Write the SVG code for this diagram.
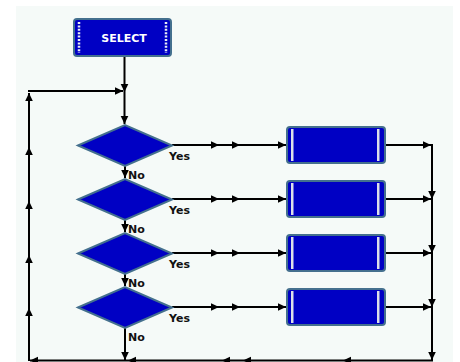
<svg xmlns="http://www.w3.org/2000/svg" width="460" height="362" viewBox="0 0 460 362">
<style>
.bg{fill:#f5faf8}
.blk{fill:#0000c4;stroke:#44708e;stroke-width:2}
.bar{fill:#dcdfe8}
.dot{stroke:#e8ecf4;stroke-width:2.5;stroke-dasharray:2 1.4}
.c{fill:none;stroke:#000;stroke-width:2}
.lbl{font-family:"DejaVu Sans",sans-serif;font-weight:bold;font-size:11px;fill:#111}
.sel{font-family:"DejaVu Sans",sans-serif;font-weight:bold;font-size:11px;fill:#fff}
</style>
<defs>
<marker id="a" markerUnits="userSpaceOnUse" markerWidth="10" markerHeight="10" viewBox="0 0 10 10" refX="8" refY="5" orient="auto">
<path d="M0 1.2 L8 5 L0 8.8 Z" fill="#000"/>
</marker>
</defs>
<rect class="bg" x="16" y="6" width="437" height="360"/>
<g id="connectors">
<path class="c" d="M124.5 56 L124.5 92 L124.5 124" marker-mid="url(#a)" marker-end="url(#a)"/>
<path class="c" d="M29 361 L29 308 L29 255 L29 201 L29 147 L29 93" marker-mid="url(#a)" marker-end="url(#a)"/>
<path class="c" d="M28 91 L123 91" marker-end="url(#a)"/>
<path class="c" d="M125 166 L125 178" marker-end="url(#a)"/>
<path class="c" d="M125 220 L125 232" marker-end="url(#a)"/>
<path class="c" d="M125 274 L125 286" marker-end="url(#a)"/>
<path class="c" d="M125 328 L125 360" marker-end="url(#a)"/>
<path class="c" d="M172 145 L219 145 L240 145 L286 145" marker-mid="url(#a)" marker-end="url(#a)"/>
<path class="c" d="M172 199 L219 199 L240 199 L286 199" marker-mid="url(#a)" marker-end="url(#a)"/>
<path class="c" d="M172 253 L219 253 L240 253 L286 253" marker-mid="url(#a)" marker-end="url(#a)"/>
<path class="c" d="M172 307 L219 307 L240 307 L286 307" marker-mid="url(#a)" marker-end="url(#a)"/>
<path class="c" d="M385 145 L431 145" marker-end="url(#a)"/>
<path class="c" d="M385 199 L431 199" marker-end="url(#a)"/>
<path class="c" d="M385 253 L431 253" marker-end="url(#a)"/>
<path class="c" d="M385 307 L431 307" marker-end="url(#a)"/>
<path class="c" d="M432 144 L432 199 L432 253 L432 307 L432 360" marker-mid="url(#a)" marker-end="url(#a)"/>
<path class="c" d="M433 360.5 L343 360.5 L243 360.5 L222 360.5 L128 360.5 L30 360.5" marker-mid="url(#a)" marker-end="url(#a)"/>
</g>
<g id="select">
<rect class="blk" x="74" y="19" width="97" height="37" rx="3"/>
<line class="dot" x1="79" y1="22" x2="79" y2="53"/>
<line class="dot" x1="166" y1="22" x2="166" y2="53"/>
<text class="sel" x="124" y="41.5" text-anchor="middle">SELECT</text>
</g>
<g id="d1"><polygon class="blk" points="78,145.5 125,125 172,145.5 125,166"/></g>
<g id="d2"><polygon class="blk" points="78,199.5 125,179 172,199.5 125,220"/></g>
<g id="d3"><polygon class="blk" points="78,253.5 125,233 172,253.5 125,274"/></g>
<g id="d4"><polygon class="blk" points="78,307.5 125,287 172,307.5 125,328"/></g>
<g id="b1"><rect class="blk" x="287" y="127" width="98" height="36" rx="3"/><rect class="bar" x="291" y="129" width="2.5" height="32"/><rect class="bar" x="377" y="129" width="2.5" height="32"/></g>
<g id="b2"><rect class="blk" x="287" y="181" width="98" height="36" rx="3"/><rect class="bar" x="291" y="183" width="2.5" height="32"/><rect class="bar" x="377" y="183" width="2.5" height="32"/></g>
<g id="b3"><rect class="blk" x="287" y="235" width="98" height="36" rx="3"/><rect class="bar" x="291" y="237" width="2.5" height="32"/><rect class="bar" x="377" y="237" width="2.5" height="32"/></g>
<g id="b4"><rect class="blk" x="287" y="289" width="98" height="36" rx="3"/><rect class="bar" x="291" y="291" width="2.5" height="32"/><rect class="bar" x="377" y="291" width="2.5" height="32"/></g>
<g id="labels">
<text class="lbl" x="169" y="159.5">Yes</text>
<text class="lbl" x="169" y="213.5">Yes</text>
<text class="lbl" x="169" y="267.5">Yes</text>
<text class="lbl" x="169" y="321.5">Yes</text>
<text class="lbl" x="128" y="179">No</text>
<text class="lbl" x="128" y="233">No</text>
<text class="lbl" x="128" y="287">No</text>
<text class="lbl" x="128" y="341">No</text>
</g>
</svg>
